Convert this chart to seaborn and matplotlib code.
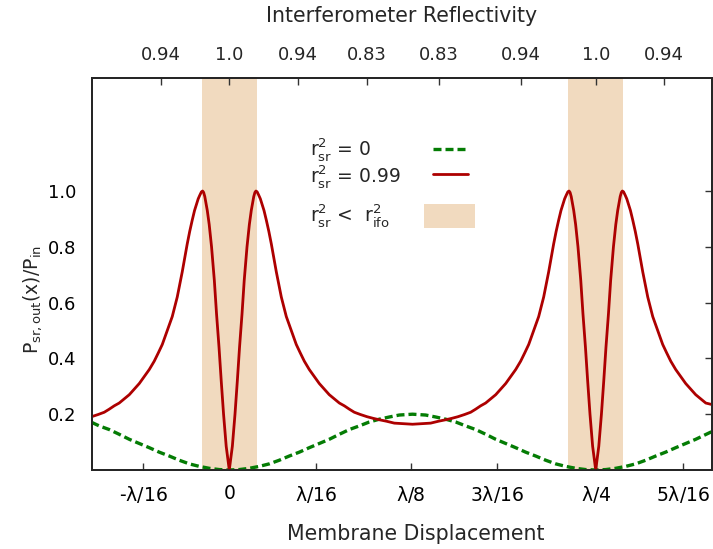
import matplotlib
matplotlib.use("Agg")
import matplotlib.pyplot as plt
import seaborn as sns
import pandas as pd
from matplotlib.lines import Line2D
from matplotlib.patches import Rectangle

# ---- data (x in units of wavelength) ----
x_red = [-0.0940, -0.0894, -0.0853, -0.0819, -0.0785, -0.0751, -0.0716, -0.0682,
         -0.0648, -0.0614, -0.0580, -0.0546, -0.0512, -0.0484, -0.0457, -0.0423,
         -0.0389, -0.0355, -0.0338, -0.0321, -0.0304, -0.0287, -0.0270, -0.0253,
         -0.0237, -0.0222, -0.0212, -0.0201, -0.0190, -0.0182, -0.0175, -0.0167,
         -0.0150, -0.0137, -0.0121, -0.0102, -0.0087, -0.0070, -0.0055, -0.0039,
         -0.0021, 0.0000,
         0.0021, 0.0039, 0.0055, 0.0070, 0.0087, 0.0102, 0.0121, 0.0137, 0.0150,
         0.0167, 0.0175, 0.0182, 0.0190, 0.0201, 0.0212, 0.0222, 0.0237, 0.0253,
         0.0270, 0.0287, 0.0304, 0.0321, 0.0338, 0.0355, 0.0389, 0.0423, 0.0457,
         0.0484, 0.0512, 0.0546, 0.0580, 0.0614, 0.0648, 0.0682, 0.0716, 0.0751,
         0.0785, 0.0819, 0.0853, 0.0894, 0.0940, 0.0983, 0.1024, 0.1071, 0.1126,
         0.1187, 0.1250,
         0.1313, 0.1374, 0.1429, 0.1476, 0.1517, 0.1560, 0.1606, 0.1647, 0.1681,
         0.1715, 0.1749, 0.1784, 0.1818, 0.1852, 0.1886, 0.1920, 0.1954, 0.1988,
         0.2016, 0.2043, 0.2077, 0.2111, 0.2145, 0.2162, 0.2179, 0.2196, 0.2213,
         0.2230, 0.2247, 0.2263, 0.2278, 0.2288, 0.2299, 0.2310, 0.2318, 0.2325,
         0.2333, 0.2350, 0.2363, 0.2379, 0.2398, 0.2413, 0.2430, 0.2445, 0.2461,
         0.2479, 0.2500,
         0.2521, 0.2539, 0.2555, 0.2570, 0.2587, 0.2602, 0.2621, 0.2637, 0.2650,
         0.2667, 0.2675, 0.2682, 0.2690, 0.2701, 0.2712, 0.2722, 0.2737, 0.2753,
         0.2770, 0.2787, 0.2804, 0.2821, 0.2838, 0.2855, 0.2889, 0.2923, 0.2957,
         0.2984, 0.3012, 0.3046, 0.3080, 0.3114, 0.3148, 0.3182, 0.3216, 0.3251,
         0.3290]
p_red = [0.191, 0.199, 0.207, 0.218, 0.230, 0.240, 0.255, 0.270,
         0.290, 0.310, 0.335, 0.360, 0.390, 0.420, 0.450, 0.500,
         0.550, 0.620, 0.665, 0.710, 0.760, 0.810, 0.855, 0.895,
         0.930, 0.955, 0.972, 0.985, 0.997, 1.000, 0.995, 0.980,
         0.930, 0.880, 0.800, 0.680, 0.560, 0.440, 0.320, 0.200,
         0.085, 0.000,
         0.085, 0.200, 0.320, 0.440, 0.560, 0.680, 0.800, 0.880, 0.930,
         0.980, 0.995, 1.000, 0.997, 0.985, 0.972, 0.955, 0.930, 0.895,
         0.855, 0.810, 0.760, 0.710, 0.665, 0.620, 0.550, 0.500, 0.450,
         0.420, 0.390, 0.360, 0.335, 0.310, 0.290, 0.270, 0.255, 0.240,
         0.230, 0.218, 0.207, 0.199, 0.191, 0.185, 0.180, 0.175, 0.168,
         0.166, 0.164,
         0.166, 0.168, 0.175, 0.180, 0.185, 0.191, 0.199, 0.207, 0.218,
         0.230, 0.240, 0.255, 0.270, 0.290, 0.310, 0.335, 0.360, 0.390,
         0.420, 0.450, 0.500, 0.550, 0.620, 0.665, 0.710, 0.760, 0.810,
         0.855, 0.895, 0.930, 0.955, 0.972, 0.985, 0.997, 1.000, 0.995,
         0.980, 0.930, 0.880, 0.800, 0.680, 0.560, 0.440, 0.320, 0.200,
         0.085, 0.000,
         0.085, 0.200, 0.320, 0.440, 0.560, 0.680, 0.800, 0.880, 0.930,
         0.980, 0.995, 1.000, 0.997, 0.985, 0.972, 0.955, 0.930, 0.895,
         0.855, 0.810, 0.760, 0.710, 0.665, 0.620, 0.550, 0.500, 0.450,
         0.420, 0.390, 0.360, 0.335, 0.310, 0.290, 0.270, 0.255, 0.240,
         0.235]

x_green = [-0.0940, -0.0887, -0.0819, -0.0751, -0.0682, -0.0614, -0.0546, -0.0478,
           -0.0409, -0.0341, -0.0273, -0.0205, -0.0136, -0.0068, 0.0,
           0.0068, 0.0136, 0.0205, 0.0273, 0.0341, 0.0409, 0.0478, 0.0546, 0.0614,
           0.0682, 0.0751, 0.0819, 0.0887, 0.0955, 0.1023, 0.1092, 0.1160, 0.1250,
           0.1340, 0.1408, 0.1477, 0.1545, 0.1613, 0.1681, 0.1750, 0.1818, 0.1886,
           0.1954, 0.2022, 0.2091, 0.2159, 0.2227, 0.2295, 0.2364, 0.2432, 0.2500,
           0.2568, 0.2636, 0.2705, 0.2773, 0.2841, 0.2909, 0.2977, 0.3046, 0.3114,
           0.3182, 0.3290]
p_green = [0.171, 0.158, 0.145, 0.128, 0.110, 0.095, 0.080, 0.064,
           0.050, 0.035, 0.022, 0.013, 0.006, 0.0015, 0.0,
           0.0015, 0.006, 0.013, 0.022, 0.035, 0.050, 0.064, 0.080, 0.095,
           0.110, 0.128, 0.145, 0.158, 0.172, 0.182, 0.190, 0.197, 0.200,
           0.197, 0.190, 0.182, 0.172, 0.158, 0.145, 0.128, 0.110, 0.095,
           0.080, 0.064, 0.050, 0.035, 0.022, 0.013, 0.006, 0.0015, 0.0,
           0.0015, 0.006, 0.013, 0.022, 0.035, 0.050, 0.064, 0.080, 0.095,
           0.110, 0.137]

bands = [(-0.0186, 0.0186), (0.2314, 0.2686)]

bottom_tick_pos = [-0.0587, 0.0, 0.0590, 0.1238, 0.1827, 0.2500, 0.3096]
bottom_tick_lab = [r'-$\mathregular{\lambda}$/16', '0', r'$\mathregular{\lambda}$/16',
                   r'$\mathregular{\lambda}$/8', r'3$\mathregular{\lambda}$/16',
                   r'$\mathregular{\lambda}$/4', r'5$\mathregular{\lambda}$/16']
top_tick_pos = [-0.0468, 0.0, 0.0471, 0.0940, 0.1430, 0.1990, 0.2500, 0.2966]
top_tick_lab = ['0.94', '1.0', '0.94', '0.83', '0.83', '0.94', '1.0', '0.94']
y_ticks = [0.2, 0.4, 0.6, 0.8, 1.0]
y_tick_lab = ['0.2', '0.4', '0.6', '0.8', '1.0']

RED = '#ad0000'
GREEN = '#047c04'
PEACH = '#f1dabf'

sns.set_theme(style='white')
plt.rcParams['font.family'] = ['DejaVu Sans']
plt.rcParams['mathtext.fontset'] = 'dejavusans'

fig = plt.figure(figsize=(7.13, 5.49), dpi=100)
ax = fig.add_axes([91.5/713, (549-470)/549, 620/713, 392/549])

for lo, hi in bands:
    ax.axvspan(lo, hi, color=PEACH, lw=0, zorder=0)

df_r = pd.DataFrame({'x': x_red, 'p': p_red})
df_g = pd.DataFrame({'x': x_green, 'p': p_green})
sns.lineplot(data=df_g, x='x', y='p', ax=ax, color=GREEN, linewidth=2.4,
             linestyle=(0, (2.4, 1.2)), zorder=3)
sns.lineplot(data=df_r, x='x', y='p', ax=ax, color=RED, linewidth=2.0, zorder=4)

ax.set_xlim(-0.094, 0.329)
ax.set_ylim(0, 1.405)
ax.set_xticks(bottom_tick_pos)
ax.set_xticklabels(bottom_tick_lab)
ax.set_yticks(y_ticks)
ax.set_yticklabels(y_tick_lab)
ax.tick_params(axis='both', direction='in', length=5, width=1, color='#333333',
               labelsize=13, labelcolor='black')
ax.tick_params(axis='x', pad=10, labelsize=13.5)
ax.tick_params(axis='y', pad=11, right=True)
ax.set_xlabel('Membrane Displacement', fontsize=14.8)
ax.xaxis.set_label_coords(0.523, -0.138)
ax.set_ylabel(r'$\mathregular{P_{sr,out}(x)/P_{in}}$', fontsize=13.5)
ax.yaxis.set_label_coords(-0.077, 0.434)
for s in ax.spines.values():
    s.set_color('black')
    s.set_linewidth(1.2)

ax2 = ax.twiny()
ax2.set_xlim(ax.get_xlim())
ax2.set_xticks(top_tick_pos)
ax2.set_xticklabels(top_tick_lab)
ax2.tick_params(axis='x', direction='in', length=5, width=1, color='#333333',
                labelsize=13, pad=10)
ax2.set_xlabel('Interferometer Reflectivity', fontsize=14.8, labelpad=17)
ax2.grid(False)
ax.grid(False)

# legend (gnuplot-style: text on the left, sample on the right)
tf = ax.transAxes
ax.text(0.352, 0.818, r'$\mathregular{r_{sr}^{2}}$ = 0', transform=tf,
        fontsize=13.5, va='center', ha='left')
ax.text(0.352, 0.750, r'$\mathregular{r_{sr}^{2}}$ = 0.99', transform=tf,
        fontsize=13.5, va='center', ha='left')
ax.text(0.352, 0.650, r'$\mathregular{r_{sr}^{2}}$ <  $\mathregular{r_{ifo}^{2}}$',
        transform=tf, fontsize=13.5, va='center', ha='left')
ax.add_line(Line2D([0.551, 0.607], [0.819, 0.819], transform=tf, color=GREEN,
                   lw=2.4, linestyle=(0, (2.4, 1.2))))
ax.add_line(Line2D([0.551, 0.607], [0.755, 0.755], transform=tf, color=RED, lw=2.0))
ax.add_patch(Rectangle((0.536, 0.617), 0.083, 0.062, transform=tf,
                       facecolor=PEACH, edgecolor='none'))

fig.savefig('out.png', dpi=100)
